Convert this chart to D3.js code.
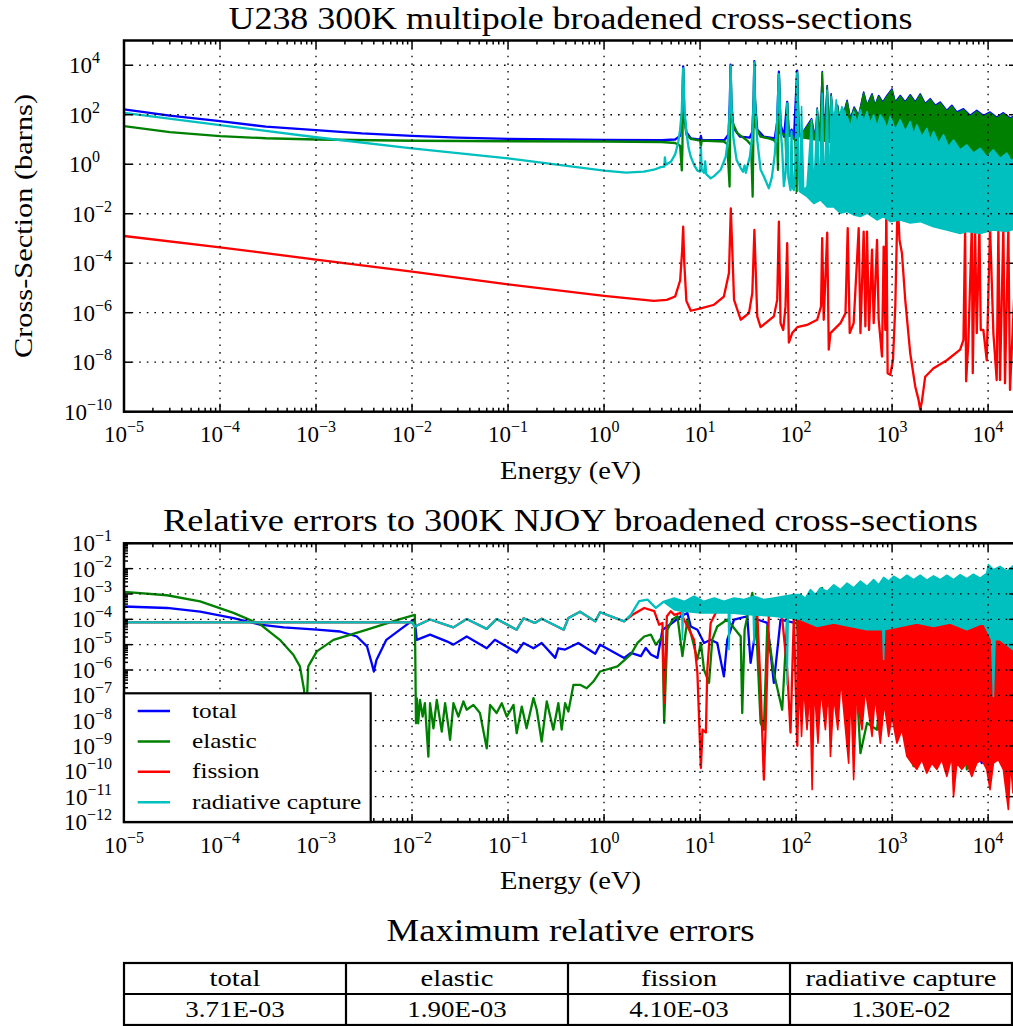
<!DOCTYPE html>
<html>
<head>
<meta charset="utf-8">
<script src="https://cdn.jsdelivr.net/npm/d3@7"></script>
<style>
body { margin: 0; background: #fff; }
text { font-family: "Liberation Serif", "DejaVu Serif", serif; fill: #000; }
</style>
</head>
<body>
<script>
// ---- data (energy in eV) ----
var seriesNames = ["total", "elastic", "fission", "radiative capture"];
var seriesColors = ["#0000ff", "#008000", "#ff0000", "#00bfbf"];
var maxErrors = ["3.71E-03", "1.90E-03", "4.10E-03", "1.30E-02"];

// top panel, cross-sections in barns
var totalXS = [[1e-5,166],[3e-5,92],[1e-4,55],[3e-4,33],[1e-3,24],[3e-3,17.5],[1e-2,14],[3e-2,12],[1e-1,10.5],[1,9.7],[4,9.5],[5.5,10],[6.2,14],[6.5,80],[6.67,9000],[6.85,100],[7.2,20],[8,11],[10,9.8],[10.2,14],[10.4,9.5],[18,9.5],[19.8,16],[20.4,300],[20.8,10500],[21.2,300],[22.2,30],[26,13],[33,12],[35,20],[36.2,500],[36.7,14500],[37.3,400],[39.4,25],[46,13],[60,11],[63.5,50],[66.2,5500],[68.9,40],[75,13],[80.8,330],[84,14],[89.7,25],[95,11],[102.6,6100],[107,20],[111,14]];
var totalXSUpper = [[111,14],[145,70],[159,10.5],[166,185],[176,10.5],[187.5,5600],[197,10.5],[211,1500],[221,14.5],[232,700],[247,20],[271,240],[290,37],[340,380],[368,70],[403,205],[449,95],[506,820],[548,240],[618,700],[665,240],[725,600],[799,325],[885,600],[997,1100],[1080,325],[1217,600],[1371,325],[1545,640],[1742,325],[1963,700],[2213,280],[2495,445],[2812,240],[3170,325],[3718,150],[4190,240],[4720,128],[5539,175],[6500,94],[7616,150],[8931,94],[10480,128],[12290,80],[14420,120],[16910,74],[19900,100]];
var totalXSLower = [[111,13],[250,8],[1000,1],[19900,0.2]];

var elasticXS = [[1e-5,35],[3e-5,20],[1e-4,13.8],[3e-4,11.2],[1e-3,10],[1e-2,8.9],[1e-1,8.5],[1,8.3],[4,7.9],[5.5,7.2],[6.2,5.6],[6.45,0.56],[6.55,4],[6.67,7000],[6.8,100],[7.2,16],[8,10.5],[10,9],[10.2,5.2],[10.4,9],[17.7,8.3],[19.2,6.5],[20.3,0.126],[20.8,9000],[21.3,60],[24.4,18],[31,9],[34,6],[35.3,0.049],[36.7,12000],[37.9,33],[42.7,13],[52,11],[58.7,9.5],[63.6,6],[64.8,0.59],[66.2,4000],[68.9,18],[77.6,15],[79.5,0.81],[80.8,280],[84,14],[91,14],[98,9],[101.5,0.079],[102.6,4300],[105,20],[111,13.1]];
var elasticXSUpper = [[111,13.1],[145,62],[159,9.5],[166,166],[176,9.5],[187.5,5040],[197,9.5],[211,1374],[221,13.1],[232,633],[247,18],[271,214],[290,33],[340,340],[368,62],[403,183],[449,84],[506,737],[548,214],[618,633],[665,214],[725,540],[799,290],[885,540],[997,1000],[1080,290],[1217,540],[1371,290],[1545,577],[1742,290],[1963,633],[2213,250],[2495,400],[2812,214],[3170,290],[3718,134],[4190,214],[4720,115],[5539,157],[6500,84],[7616,134],[8931,84],[10480,115],[12290,72],[14420,108],[16910,66],[19900,90]];
var elasticXSLower = [[111,12],[150,10],[180,9],[184,0.049],[190,9],[250,7],[350,4],[500,2],[800,0.8],[1200,0.5],[2000,0.3],[5000,0.2],[19900,0.15]];

var fissionXS = [[1e-5,1.26e-3],[1e-4,4.4e-4],[1e-3,1.4e-4],[1e-2,4.6e-5],[1e-1,1.4e-5],[1,4.8e-6],[3.3,3.0e-6],[4.5,3.3e-6],[5.5,4.5e-6],[6.2,2e-5],[6.5,3e-4],[6.67,3.0e-3],[6.85,1e-4],[7.2,3e-6],[8,1.2e-6],[10.2,1.5e-6],[14,2.1e-6],[17.7,4.5e-6],[20,4e-5],[20.9,0.0166],[22.6,3.3e-6],[26.5,5.2e-7],[32.3,9.6e-7],[35,6.2e-6],[36.8,2.2e-3],[39.4,7.1e-7],[42.7,2.6e-7],[58.7,7.1e-7],[63.6,3.3e-6],[66.2,4.8e-3],[68.9,3.8e-7],[73.5,2.0e-7],[77.6,1.8e-6],[80.8,6.4e-4],[84.1,6.2e-8],[91.1,1.5e-7],[103,2.6e-7],[130,3.2e-7],[166,5.2e-7],[182,1.8e-6],[187,1.03e-3],[194,5.2e-7],[211,1.7e-3],[219,3.2e-8],[228,1.5e-7],[290,3.8e-7],[327,9.6e-7],[345,2.6e-3],[362,1.5e-7],[398,3.8e-7],[449,2.6e-3],[468,1.5e-7],[506,1.9e-3],[527,2.8e-7],[548,1.9e-3],[575,2.0e-7],[618,3.5e-4],[643,3.8e-7],[697,8.7e-4],[725,5.2e-7],[785,1.7e-8],[817,4.7e-4],[850,2.0e-7],[871,0.019],[899,3.6e-9],[958,3.1e-9],[1021,1.2e-8],[1080,1.8e-6],[1142,0.036],[1195,8.7e-4],[1267,2.5e-4],[1371,3.3e-6],[1545,2.3e-8],[1742,1.05e-9],[1887,3.0e-10],[1963,1.26e-10],[2044,2.6e-10],[2213,2.6e-9],[2703,5.7e-9],[3718,1.2e-8],[5114,3.2e-8],[5539,8e-8],[5764,3.0e-3],[5904,1.7e-9],[6243,8e-8],[6761,3.0e-3],[6922,3.6e-9],[7317,3.0e-3],[7616,1.5e-7],[8120,3.0e-3],[8383,2e-7],[8931,2e-7],[9675,1.2e-8],[10480,3.0e-3],[11350,1.5e-7],[12290,1.9e-9],[12800,3.0e-3],[13310,1.9e-9],[14420,3.0e-3],[15000,1.4e-9],[16250,3.0e-3],[16910,7.6e-10],[18160,3.8e-7],[19900,8.7e-4]];

var captureXS = [[1e-5,120],[1e-4,38],[1e-3,12.3],[1e-2,4.4],[1e-1,1.74],[1,0.55],[1.7,0.46],[2.6,0.5],[3.3,0.6],[3.9,0.76],[4.25,0.8],[4.3,1.9],[4.4,0.95],[5.0,1.3],[5.5,2.5],[5.9,7],[6.2,25],[6.45,150],[6.6,2000],[6.67,7500],[6.75,2000],[6.9,150],[7.2,20],[7.6,4.5],[8,2.0],[8.7,0.9],[9.4,0.55],[10,0.5],[10.2,5],[10.4,0.6],[11,0.45],[11.3,1.3],[11.6,0.4],[12.9,0.27],[14,0.33],[16.4,0.6],[18.5,2.0],[19.8,15],[20.4,200],[20.8,9400],[21.2,300],[22.2,12],[24,1.5],[26.5,0.7],[28,0.5],[29.1,0.9],[30,0.45],[31,0.8],[33,2.0],[35,15],[36.2,400],[36.7,12900],[37.3,300],[39.4,9.5],[42.7,0.6],[46.2,0.32],[52.1,0.107],[56,0.3],[60,2.5],[63.5,50],[66.2,4350],[68.9,30],[71.7,3.8],[74.6,0.13],[78,0.5],[80.8,290],[83,0.3],[87.5,0.09],[89.7,21],[91.5,0.12],[94.8,0.09],[99,2],[102.6,5000],[106,1.5],[109,0.079]];
var captureXSUpper = [[109,0.079],[114,214],[120,0.091],[130,0.126],[145,62],[153,0.068],[166,166],[176,0.049],[187,737],[197,0.049],[211,1000],[221,0.036],[232,540],[247,46],[262,400],[279,62],[300,214],[340,84],[368,33],[398,134],[432,46],[468,157],[506,53],[548,134],[593,46],[643,98],[697,33],[754,98],[817,62],[885,28],[958,84],[1080,25],[1217,62],[1371,21],[1545,53],[1675,15.5],[1811,39],[2044,13],[2300,28],[2495,9.5],[2703,21],[3048,7.1],[3435,15.5],[3864,5.2],[4366,9.5],[5114,3.8],[6000,6.0],[7030,2.8],[8260,4.4],[9675,2.0],[11350,3.8],[13310,1.74],[15630,2.8],[17580,1.3],[19900,2.4]];
var captureXSLower = [[109,0.079],[130,0.049],[153,0.026],[179,0.036],[211,0.019],[247,0.019],[290,0.0105],[340,0.0123],[398,0.009],[468,0.0077],[548,0.0105],[697,0.0056],[817,0.0077],[958,0.0048],[1217,0.0056],[1545,0.0042],[1963,0.0048],[2703,0.003],[3718,0.0022],[5114,0.0016],[6000,0.0019],[8260,0.0016],[11350,0.0022],[15630,0.0019],[19900,0.0026]];

// bottom panel, relative errors
var totalErr = [[1e-5,3.2e-4],[2.8e-5,2.8e-4],[6.2e-5,2.0e-4],[1.38e-4,1.12e-4],[2.6e-4,6.2e-5],[4.6e-4,4.8e-5],[1.02e-3,3.9e-5],[1.78e-3,3.3e-5],[2.66e-3,2.1e-5],[3.4e-3,8.5e-6],[3.8e-3,1.86e-6],[4.0e-3,8.7e-7],[4.26e-3,2.5e-6],[5.4e-3,1.55e-5],[7.5e-3,3.9e-5],[1.03e-2,9.5e-5],[1.07e-2,8.3e-5],[1.12e-2,1.55e-5],[1.54e-2,2.5e-5],[2.3e-2,1.35e-5],[2.7e-2,1.0e-5],[3.71e-2,2.1e-5],[6.0e-2,7.2e-6],[7.3e-2,1.55e-5],[0.123,4.9e-6],[0.145,1.17e-5],[0.184,7.2e-6],[0.224,1.17e-5],[0.31,3.0e-6],[0.334,7.2e-6],[0.393,6.4e-6],[0.54,1.17e-5],[0.81,4.4e-6],[0.91,1.0e-5],[1.62,3.0e-6],[1.90,4.7e-6],[2.42,3.5e-6],[2.72,7.4e-6],[3.07,4.1e-6],[3.60,3.0e-6],[4.06,3.9e-5],[4.58,5.2e-5],[6.30,1.32e-4],[7.38,1.78e-4],[8.0,5.2e-5],[9.38,3.9e-5],[11.0,1.17e-5],[12.9,1.55e-5],[15.1,1.17e-5],[17.7,5.6e-7],[19.2,1.55e-5],[22.6,9.8e-5],[31.0,1.32e-4],[33.6,1.9e-6],[39.4,9.8e-5],[50.1,7.2e-5],[58.7,3.1e-7],[68.9,9.8e-5],[141,5.2e-5],[228,9.1e-8],[267,5.2e-5],[398,9.8e-5],[817,5e-8],[1217,9.8e-5],[2703,7.2e-5],[8590,2.1e-10],[13310,9.8e-5],[18160,7.2e-10]];

var elasticErr = [[1e-5,1.2e-3],[2.8e-5,8.9e-4],[6.2e-5,5.1e-4],[1.38e-4,1.8e-4],[2.6e-4,6.5e-5],[4.2e-4,1.55e-5],[5.8e-4,4.0e-6],[6.8e-4,1.38e-6],[7.5e-4,1.66e-7],[7.9e-4,1e-8],[8.3e-4,1.38e-6],[1.02e-3,5.4e-6],[1.52e-3,1.55e-5],[3.4e-3,3.9e-5],[7.5e-3,1.02e-4],[1.07e-2,1.5e-4],[1.10e-2,7.9e-9],[1.12e-2,7.8e-8],[1.16e-2,7.9e-9],[1.21e-2,6.6e-8],[1.29e-2,1.45e-8],[1.36e-2,4.9e-8],[1.48e-2,3.8e-10],[1.54e-2,4.9e-8],[1.67e-2,5.0e-9],[1.81e-2,6.6e-8],[2.04e-2,3.7e-9],[2.21e-2,4.9e-8],[2.39e-2,5.9e-9],[2.49e-2,1.74e-9],[2.70e-2,4.9e-8],[3.04e-2,1.45e-8],[3.43e-2,5.8e-8],[3.71e-2,2.7e-8],[4.36e-2,4.2e-8],[5.1e-2,2.0e-8],[6.0e-2,8.1e-10],[6.5e-2,4.2e-8],[7.6e-2,2.0e-8],[8.6e-2,4.9e-8],[9.7e-2,1.45e-8],[0.114,4.2e-8],[0.123,3.2e-9],[0.139,3.6e-8],[0.156,5.0e-9],[0.184,7.8e-8],[0.199,2.7e-8],[0.224,1.5e-9],[0.253,5.8e-8],[0.296,4.4e-9],[0.334,4.9e-8],[0.362,4.4e-9],[0.393,4.9e-8],[0.425,2.3e-8],[0.48,2.6e-7],[0.562,2.6e-7],[0.659,1.9e-7],[0.774,3.5e-7],[0.908,8.7e-7],[1.38,1.38e-6],[1.90,4.1e-6],[2.23,1.17e-5],[2.62,2.1e-5],[3.07,2.5e-5],[3.46,1.0e-5],[4.06,2.1e-5],[4.23,8.1e-9],[4.58,3.9e-5],[5.16,9.8e-5],[5.81,1.32e-4],[6.55,3.5e-6],[7.38,9.8e-5],[9.38,2.6e-6],[10.2,1.17e-5],[11.0,1.02e-6],[12.4,3.1e-7],[13.4,1.58e-5],[15.1,5.2e-5],[19.2,9.8e-5],[26.5,2.1e-5],[27.5,2.0e-8],[29.1,3.9e-5],[35.0,1.1e-3],[37.9,1.78e-4],[42.7,8.1e-9],[46.2,4.4e-9],[50.1,5.2e-5],[58.7,7.6e-7],[71.7,2.7e-8],[80.8,9.8e-5],[98.6,8.1e-4],[111,4.2e-7],[130,1.78e-4],[187,1.74e-3],[211,3.7e-8],[247,7.2e-5],[340,1.48e-8],[398,3.9e-5],[468,5.2e-10],[548,8.1e-9],[697,4.4e-9],[885,3.9e-5],[1217,8.1e-9],[1675,1.6e-10],[1963,1.48e-8],[2703,9.8e-5],[3435,1.3e-9],[4366,9.8e-5],[6000,1.2e-10],[7616,1.1e-4],[10070,1e-9],[13310,1.3e-4],[18160,2e-10]];
var elasticErrUpper = [[250,7e-5],[300,1.3e-4],[350,6e-5],[420,1.1e-4],[500,5e-5],[600,1.2e-4],[700,6e-5],[800,1.3e-4],[900,8e-5],[1000,1.4e-4],[1150,9e-5],[1300,1.5e-4],[1500,1e-4],[1700,1.4e-4],[2000,9e-5],[2300,1.5e-4],[2700,1e-4],[3100,1.4e-4],[3600,9e-5],[4200,1.5e-4],[4900,1e-4],[5700,1.4e-4],[6600,9e-5],[7700,1.5e-4],[9000,1.1e-4],[10500,1.6e-4],[12500,8e-5],[15000,1.2e-4],[17500,6e-5],[19900,1e-4]];
var elasticErrLower = [[250,2e-7],[19900,2e-7]];

var fissionErr = [[1e-5,7.6e-5],[1.0e-2,7.6e-5],[1.07e-2,5.2e-5],[1.54e-2,9.8e-5],[2.7e-2,4.8e-5],[3.71e-2,1.02e-4],[6.0e-2,4.2e-5],[7.6e-2,1.02e-4],[0.123,3.9e-5],[0.145,1.1e-4],[0.19,7.2e-5],[0.224,1.05e-4],[0.38,3.9e-5],[0.425,1.12e-4],[0.562,2.0e-4],[0.81,8.3e-5],[0.91,1.9e-4],[1.62,8.3e-5],[1.98,1.5e-4],[2.62,2.8e-4],[3.33,2.1e-4],[3.75,6.1e-5],[4.06,7.2e-5],[4.23,5.0e-8],[4.51,1.32e-4],[4.96,2.1e-4],[5.37,1.5e-4],[6.30,1.78e-4],[8.66,1.55e-5],[9.38,7.6e-7],[10.2,1.35e-10],[10.6,4.4e-9],[11.5,3.4e-9],[11.9,1.02e-6],[12.9,7.2e-5],[15.1,2.4e-4],[19.2,5.1e-4],[22.6,4.4e-4],[28.7,2.4e-4],[39.4,1.78e-4],[42.7,2.3e-7],[46.2,4.7e-11],[48.1,4.4e-9],[52.1,1.78e-4],[58.7,2.1e-4],[68.9,5.1e-4],[80.8,1.02e-6],[87.5,3.4e-9],[94.8,1.32e-4],[103,9.8e-10]];
var fissionErrUpper = [[103,1.32e-4],[111,1.78e-4],[130,2.0e-4],[166,1.78e-4],[247,1.6e-4],[368,1.32e-4],[548,1.32e-4],[817,1.32e-4],[1217,9.8e-5],[1811,1.12e-4],[2703,1.12e-4],[4028,1.12e-4],[6000,1.32e-4],[8931,1.5e-4],[10070,1.78e-4],[13310,3.9e-5],[18160,2.8e-5],[19900,2.8e-5]];
var fissionErrLower = [[103,9.8e-10],[109,3.1e-7],[114,2.4e-9],[120,2.3e-7],[130,4.4e-9],[139,1.7e-7],[147,1.9e-11],[155,2.3e-7],[169,1.3e-9],[182,1.7e-7],[202,4.4e-9],[217,2.3e-7],[228,3.9e-10],[247,9.1e-8],[272,4.4e-9],[293,4.2e-7],[353,2.1e-10],[372,1.7e-7],[398,4.7e-11],[425,9.1e-8],[486,4.4e-9],[527,1.7e-7],[618,2.4e-9],[666,9.1e-8],[754,1.3e-9],[830,5e-8],[921,2.4e-9],[997,1.48e-8],[1122,1.3e-9],[1267,4.4e-9],[1426,3.9e-10],[1607,2.1e-10],[1811,1.2e-10],[2044,2.9e-10],[2300,8.5e-11],[2594,2.1e-10],[2924,1.2e-10],[3296,2.9e-10],[3718,6.3e-11],[4190,3.9e-10],[4366,1.0e-11],[4720,2.1e-10],[5321,1.2e-10],[6000,2.1e-10],[6761,6.3e-11],[7616,2.1e-10],[8590,2.9e-10],[9675,1.2e-10],[10480,1.9e-11],[11350,2.1e-10],[12800,2.9e-10],[14420,1.2e-10],[16250,3.1e-12],[17180,2.1e-10],[18160,1.4e-11],[19900,5e-11]];

var captureErr = [[1e-5,7.6e-5],[1.0e-2,7.6e-5],[1.07e-2,5.2e-5],[1.54e-2,9.8e-5],[2.7e-2,4.8e-5],[3.71e-2,1.02e-4],[6.0e-2,4.2e-5],[7.6e-2,1.02e-4],[0.123,3.9e-5],[0.145,1.1e-4],[0.19,7.2e-5],[0.224,1.05e-4],[0.38,3.9e-5],[0.425,1.12e-4],[0.562,2.0e-4],[0.81,8.3e-5],[0.91,1.9e-4],[1.62,8.3e-5],[1.90,1.5e-4],[2.32,5.2e-4],[2.84,6.0e-4],[3.46,2.8e-4],[4.06,4.6e-4],[4.23,5.1e-4]];
var captureErrUpper = [[4.23,5.1e-4],[5.37,6.9e-4],[6.82,5.1e-4],[8.66,8.1e-4],[11.0,5.1e-4],[14.0,6.9e-4],[17.7,5.1e-4],[22.6,6.9e-4],[28.7,6.0e-4],[36.4,8.1e-4],[46.2,6.0e-4],[58.7,6.9e-4],[74.6,8.1e-4],[94.8,9.4e-4],[111,9.4e-4],[125,6.9e-4],[141,1.48e-3],[159,9.4e-4],[179,1.74e-3],[211,1.27e-3],[247,2.3e-3],[290,1.48e-3],[340,2.7e-3],[398,1.74e-3],[468,3.2e-3],[548,2.0e-3],[643,3.7e-3],[725,2.3e-3],[817,4.5e-3],[921,3.2e-3],[1038,5.0e-3],[1217,3.5e-3],[1426,5.5e-3],[1675,3.7e-3],[1963,5.5e-3],[2300,3.5e-3],[2703,5.2e-3],[3170,3.7e-3],[3718,5.5e-3],[4366,3.7e-3],[5114,5.8e-3],[6000,4.0e-3],[7030,6.0e-3],[8260,4.2e-3],[9675,6.5e-3],[10070,1.44e-2],[11350,9.1e-3],[13310,1.23e-2],[15630,7.9e-3],[18160,1.3e-2],[19900,1.1e-2]];
var captureErrLower = [[4.23,4.7e-4],[5.37,2.4e-4],[6.44,2.1e-4],[6.55,1.55e-5],[6.71,2.1e-4],[10.2,1.78e-4],[15.1,1.78e-4],[19.7,1.78e-4],[20.0,6.3e-6],[20.5,1.78e-4],[35.8,1.5e-4],[36.4,1.17e-5],[37.3,1.5e-4],[58.7,1.32e-4],[79.5,1.12e-4],[80.8,2.6e-7],[82.8,1.12e-4],[111,9.8e-5],[166,5.2e-5],[247,7.2e-5],[368,5.2e-5],[548,3.9e-5],[799,3.9e-5],[817,2.6e-6],[835,3.9e-5],[1217,5.2e-5],[1811,7.2e-5],[2703,5.2e-5],[4028,7.2e-5],[6000,3.9e-5],[8931,7.2e-5],[10900,1.55e-5],[11350,9.1e-8],[11810,1.55e-5],[13310,1.55e-5],[18160,6.3e-6],[19900,8e-6]];

// ---- layout ----
var svg = d3.select("body").append("svg")
    .attr("width", 1013)
    .attr("height", 1026)
    .style("background", "#fff");

var x = d3.scaleLog().domain([1e-5, 2e4]).range([124, 1017]);
var yTop = d3.scaleLog().domain([1e-10, 1e5]).range([411.7, 40.5]);
var yBot = d3.scaleLog().domain([1e-12, 1e-1]).range([822, 543.3]);

var xMajor = d3.range(-5, 5).map(function(k) { return Math.pow(10, k); });
var xMinor = [];
xMajor.forEach(function(v) {
    for (var m = 2; m < 10; m++) if (v * m < 2e4) xMinor.push(v * m);
});
var yTopMajor = d3.range(-10, 5, 2).map(function(k) { return Math.pow(10, k); });
var yBotMajor = d3.range(-12, 0).map(function(k) { return Math.pow(10, k); });
var yBotMinor = [];
yBotMajor.forEach(function(v) {
    if (v < 1e-1) for (var m = 2; m < 10; m++) yBotMinor.push(v * m);
});

function plotArea(y, id) {
    var r = y.range();
    svg.append("clipPath").attr("id", id)
      .append("rect")
	.attr("x", 124).attr("y", r[1])
	.attr("width", 893).attr("height", r[0] - r[1]);
    return svg.append("g").attr("clip-path", "url(#" + id + ")");
}

function drawLine(g, y, data, color) {
    var line = d3.line()
	.x(function(d) { return x(d[0]); })
	.y(function(d) { return y(d[1]); });
    g.append("path")
	.attr("d", line(data))
	.attr("fill", "none")
	.attr("stroke", color)
	.attr("stroke-width", 2.3)
	.attr("stroke-linejoin", "round");
}

function drawBand(g, y, upper, lower, color) {
    var line = d3.line()
	.x(function(d) { return x(d[0]); })
	.y(function(d) { return y(d[1]); });
    g.append("path")
	.attr("d", line(upper.concat(lower.slice().reverse())) + "Z")
	.attr("fill", color)
	.attr("stroke", color)
	.attr("stroke-width", 1.6)
	.attr("stroke-linejoin", "round");
}

function powLabel(t, k) {
    t.append("tspan").text("10");
    t.append("tspan")
	.attr("dy", -10)
	.attr("font-size", 16)
	.text(k < 0 ? "\u2212" + (-k) : "" + k);
}

function frame(y, yMajor, yMinor) {
    var r = y.range(), top = r[1], bot = r[0], left = 124, right = 1017;
    var g = svg.append("g");
    // dotted grid, drawn over the data like the reference
    g.selectAll(".gx").data(xMajor).enter().append("line")
	.attr("x1", function(d) { return x(d); }).attr("x2", function(d) { return x(d); })
	.attr("y1", top).attr("y2", bot)
	.attr("stroke", "#000").attr("stroke-width", 1.3).attr("stroke-dasharray", "1.6,6");
    g.selectAll(".gy").data(yMajor).enter().append("line")
	.attr("x1", left).attr("x2", right)
	.attr("y1", function(d) { return y(d); }).attr("y2", function(d) { return y(d); })
	.attr("stroke", "#000").attr("stroke-width", 1.3).attr("stroke-dasharray", "1.6,6");
    // ticks on all four sides, pointing in
    function xt(vals, len) {
	vals.forEach(function(v) {
	    g.append("line").attr("x1", x(v)).attr("x2", x(v)).attr("y1", bot).attr("y2", bot - len)
		.attr("stroke", "#000").attr("stroke-width", 1.5);
	    g.append("line").attr("x1", x(v)).attr("x2", x(v)).attr("y1", top).attr("y2", top + len)
		.attr("stroke", "#000").attr("stroke-width", 1.5);
	});
    }
    function yt(vals, len) {
	vals.forEach(function(v) {
	    g.append("line").attr("x1", left).attr("x2", left + len).attr("y1", y(v)).attr("y2", y(v))
		.attr("stroke", "#000").attr("stroke-width", 1.5);
	    g.append("line").attr("x1", right).attr("x2", right - len).attr("y1", y(v)).attr("y2", y(v))
		.attr("stroke", "#000").attr("stroke-width", 1.5);
	});
    }
    xt(xMajor, 8); xt(xMinor, 4);
    yt(yMajor, 8); yt(yMinor, 4);
    g.append("rect")
	.attr("x", left).attr("y", top).attr("width", right - left).attr("height", bot - top)
	.attr("fill", "none").attr("stroke", "#000").attr("stroke-width", 2.5);
    // tick labels
    xMajor.forEach(function(v) {
	var t = g.append("text").attr("x", x(v)).attr("y", bot + 30.5)
	    .attr("text-anchor", "middle").attr("font-size", 23);
	powLabel(t, Math.round(Math.log10(v)));
    });
    yMajor.forEach(function(v) {
	var k = Math.round(Math.log10(v));
	var t = g.append("text").attr("x", k < 0 ? 112 : 100).attr("y", y(v) + 8)
	    .attr("text-anchor", "end").attr("font-size", 23);
	powLabel(t, k);
    });
}

// stretch Times-like text to the wider Computer Modern widths of the reference
function widen(t, f) {
    t.attr("textLength", t.node().getComputedTextLength() * f)
	.attr("lengthAdjust", "spacingAndGlyphs");
}

// ---- top panel ----
var g1 = plotArea(yTop, "clipTop");
drawBand(g1, yTop, totalXSUpper, totalXSLower, seriesColors[0]);
drawLine(g1, yTop, totalXS, seriesColors[0]);
drawBand(g1, yTop, elasticXSUpper, elasticXSLower, seriesColors[1]);
drawLine(g1, yTop, elasticXS, seriesColors[1]);
drawLine(g1, yTop, fissionXS, seriesColors[2]);
drawBand(g1, yTop, captureXSUpper, captureXSLower, seriesColors[3]);
drawLine(g1, yTop, captureXS, seriesColors[3]);
frame(yTop, yTopMajor, []);

// ---- bottom panel ----
var g2 = plotArea(yBot, "clipBot");
drawLine(g2, yBot, totalErr, seriesColors[0]);
drawBand(g2, yBot, elasticErrUpper, elasticErrLower, seriesColors[1]);
drawLine(g2, yBot, elasticErr, seriesColors[1]);
drawBand(g2, yBot, fissionErrUpper, fissionErrLower, seriesColors[2]);
drawLine(g2, yBot, fissionErr, seriesColors[2]);
drawBand(g2, yBot, captureErrUpper, captureErrLower, seriesColors[3]);
drawLine(g2, yBot, captureErr, seriesColors[3]);
frame(yBot, yBotMajor, yBotMinor);

// legend
var leg = svg.append("g");
leg.append("rect")
    .attr("x", 124).attr("y", 693.3).attr("width", 246.7).attr("height", 128.7)
    .attr("fill", "#fff").attr("stroke", "#000").attr("stroke-width", 2.2);
seriesNames.forEach(function(name, i) {
    var cy = 711 + i * 30.4;
    leg.append("line").attr("x1", 137.7).attr("x2", 170).attr("y1", cy).attr("y2", cy)
	.attr("stroke", seriesColors[i]).attr("stroke-width", 2.5);
    var t = leg.append("text").attr("x", 192).attr("y", cy + 6.5).attr("font-size", 22).text(name);
    widen(t, 1.15);
});

// titles and axis labels
function label(txt, cx, cy, size, len, rot) {
    var t = svg.append("text")
	.attr("text-anchor", "middle")
	.attr("font-size", size)
	.attr("textLength", len)
	.attr("lengthAdjust", "spacingAndGlyphs")
	.text(txt);
    if (rot) t.attr("transform", "translate(" + cx + "," + cy + ") rotate(-90)");
    else t.attr("x", cx).attr("y", cy);
}
label("U238 300K multipole broadened cross-sections", 570.5, 28.5, 31, 684);
label("Energy (eV)", 570.5, 479, 26, 141);
label("Cross-Section (barns)", 32, 226, 26, 264, true);
label("Relative errors to 300K NJOY broadened cross-sections", 570.5, 530.5, 31, 815);
label("Energy (eV)", 570.5, 889, 26, 141);
label("Maximum relative errors", 570.5, 941, 31, 368);

// table
var colX = [124, 346, 568, 790, 1012];
var rowY = [963, 994, 1025];
var tbl = svg.append("g");
tbl.append("rect")
    .attr("x", colX[0]).attr("y", rowY[0]).attr("width", colX[4] - colX[0]).attr("height", rowY[2] - rowY[0])
    .attr("fill", "none").attr("stroke", "#000").attr("stroke-width", 2.2);
tbl.append("line").attr("x1", colX[0]).attr("x2", colX[4]).attr("y1", rowY[1]).attr("y2", rowY[1])
    .attr("stroke", "#000").attr("stroke-width", 2.2);
colX.slice(1, 4).forEach(function(cx) {
    tbl.append("line").attr("x1", cx).attr("x2", cx).attr("y1", rowY[0]).attr("y2", rowY[2])
	.attr("stroke", "#000").attr("stroke-width", 2.2);
});
seriesNames.forEach(function(name, i) {
    var cx = (colX[i] + colX[i + 1]) / 2;
    var t1 = tbl.append("text").attr("x", cx).attr("y", rowY[0] + 23).attr("text-anchor", "middle")
	.attr("font-size", 24).text(name);
    widen(t1, 1.19);
    var t2 = tbl.append("text").attr("x", cx).attr("y", rowY[1] + 23).attr("text-anchor", "middle")
	.attr("font-size", 24).text(maxErrors[i]);
    widen(t2, 1.12);
});
</script>
</body>
</html>
